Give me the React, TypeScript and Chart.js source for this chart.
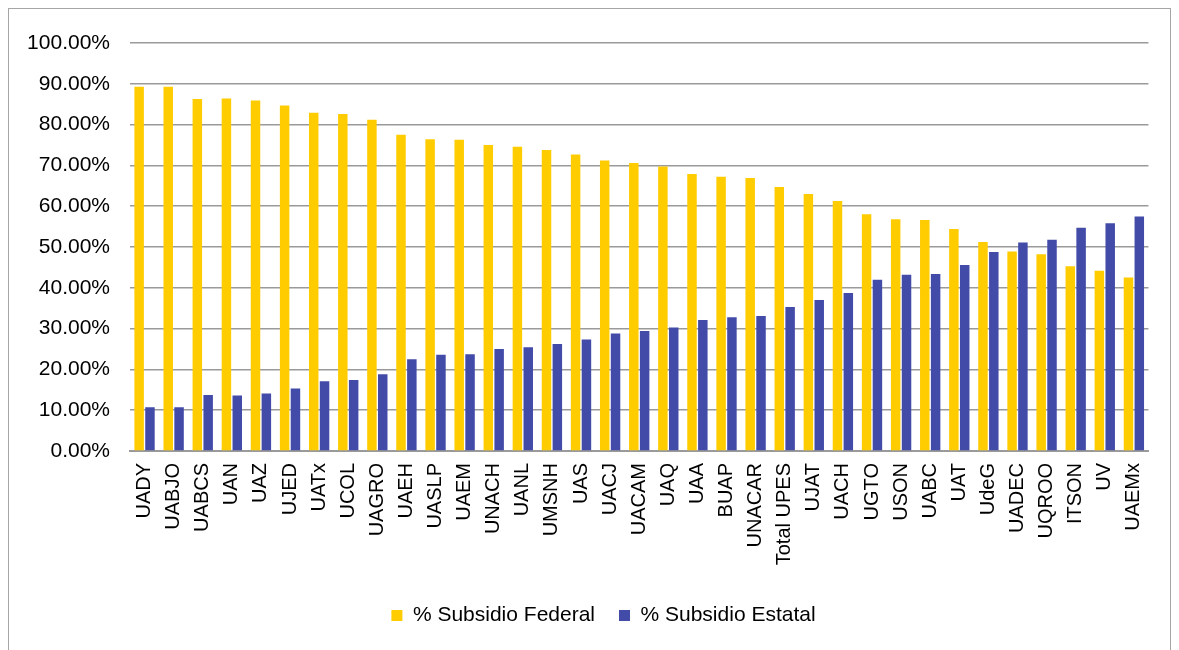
import React, { useEffect, useRef } from "react";
import { Chart, registerables } from "chart.js";

Chart.register(...registerables);

const categories = [
  "UADY", "UABJO", "UABCS", "UAN", "UAZ", "UJED", "UATx", "UCOL", "UAGRO", "UAEH",
  "UASLP", "UAEM", "UNACH", "UANL", "UMSNH", "UAS", "UACJ", "UACAM", "UAQ", "UAA",
  "BUAP", "UNACAR", "Total UPES", "UJAT", "UACH", "UGTO", "USON", "UABC", "UAT", "UdeG",
  "UADEC", "UQROO", "ITSON", "UV", "UAEMx",
];

const federal = [
  89.3, 89.3, 86.3, 86.4, 85.9, 84.7, 82.9, 82.6, 81.2, 77.5,
  76.4, 76.3, 75.0, 74.6, 73.8, 72.7, 71.2, 70.6, 69.7, 67.9,
  67.2, 66.9, 64.7, 63.0, 61.3, 58.0, 56.8, 56.6, 54.4, 51.2,
  48.9, 48.2, 45.3, 44.2, 42.5,
];

const estatal = [
  10.7, 10.7, 13.7, 13.6, 14.1, 15.3, 17.1, 17.4, 18.8, 22.5,
  23.6, 23.7, 25.0, 25.4, 26.2, 27.3, 28.8, 29.4, 30.3, 32.1,
  32.8, 33.1, 35.3, 37.0, 38.7, 42.0, 43.2, 43.4, 45.6, 48.8,
  51.1, 51.8, 54.7, 55.8, 57.5,
];

const seriesNames = ["% Subsidio Federal", "% Subsidio Estatal"];
const yTicks = [0, 10, 20, 30, 40, 50, 60, 70, 80, 90, 100];

const legendShift = {
  id: "legendShift",
  afterLayout(chart: any) {
    const lg = chart.legend;
    if (lg) {
      lg.left += 18;
      lg.right += 18;
    }
  },
};

export default function App() {
  const ref = useRef<HTMLCanvasElement | null>(null);

  useEffect(() => {
    document.body.style.overflow = "hidden";
    const canvas = ref.current;
    if (!canvas) return;
    const font = "'Liberation Sans', Arial, sans-serif";
    const chart = new Chart(canvas, {
      type: "bar",
      data: {
        labels: categories,
        datasets: [
          {
            label: seriesNames[0],
            data: federal,
            backgroundColor: "#FFCC00",
            categoryPercentage: 0.745,
            barPercentage: 0.875,
          },
          {
            label: seriesNames[1],
            data: estatal,
            backgroundColor: "#434BA9",
            categoryPercentage: 0.745,
            barPercentage: 0.875,
          },
        ],
      },
      plugins: [legendShift],
      options: {
        animation: false,
        responsive: false,
        maintainAspectRatio: false,
        layout: { padding: { top: 34, right: 8, bottom: 14, left: 0 } },
        plugins: {
          tooltip: { enabled: false },
          legend: {
            position: "bottom",
            labels: {
              boxWidth: 11,
              boxHeight: 11,
              padding: 24,
              color: "#000",
              font: { family: font, size: 21 },
            },
          },
        },
        scales: {
          x: {
            grid: { display: false, drawTicks: false },
            border: { display: true, color: "#9a9a9a", width: 2 },
            ticks: {
              color: "#000",
              font: { family: font, size: 20 },
              maxRotation: 90,
              minRotation: 90,
              autoSkip: false,
              padding: 12,
            },
            afterFit: (s: any) => {
              s.height = 130;
            },
          },
          y: {
            min: 0,
            max: 100,
            afterBuildTicks: (s: any) => {
              s.ticks = yTicks.map((v) => ({ value: v }));
            },
            grid: { color: "#9a9a9a", lineWidth: 1.5, drawTicks: false },
            border: { display: false },
            ticks: {
              color: "#000",
              font: { family: font, size: 21 },
              padding: 20,
              callback: (v: any) => Number(v).toFixed(2) + "%",
            },
            afterFit: (s: any) => {
              s.width = 121;
            },
          },
        },
      },
    });
    return () => chart.destroy();
  }, []);

  return (
    <div
      style={{
        width: 1163,
        height: 643,
        border: "1px solid #a6a6a6",
        boxSizing: "border-box",
        background: "#fff",
      }}
    >
      <canvas ref={ref} width={1161} height={641} style={{ display: "block" }} />
    </div>
  );
}
